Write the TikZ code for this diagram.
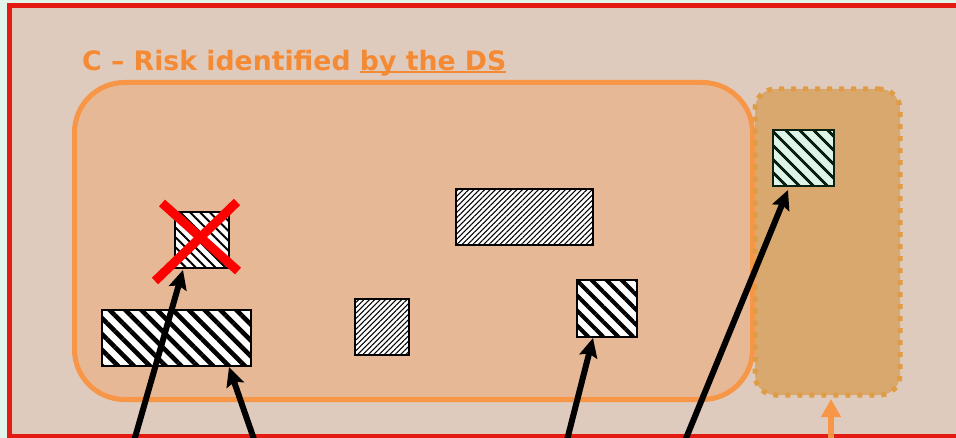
\documentclass[tikz,border=0pt]{standalone}
\usepackage{fontspec}
\setmainfont{DejaVu Sans}
\usetikzlibrary{patterns.meta,arrows.meta,calc}
\definecolor{mint}{HTML}{E1F5EA}
\definecolor{frame}{HTML}{E41B13}
\definecolor{bg}{HTML}{DFCBBE}
\definecolor{zonefill}{HTML}{E7B895}
\definecolor{zoneline}{HTML}{F79646}
\definecolor{extfill}{HTML}{D9A86E}
\definecolor{extline}{HTML}{DF9C44}
\definecolor{titlecol}{HTML}{F58A34}
\definecolor{grnfill}{HTML}{DDF5E8}
\definecolor{grnline}{HTML}{0A1F10}
\newcommand\myul[1]{\setbox0=\hbox{#1}\rlap{\rule[-2.6pt]{\wd0}{2.4pt}}\box0}
\begin{document}
\begin{tikzpicture}[x=1pt,y=-1pt,
  item/.style={draw=black, line width=2pt, inner sep=0pt, outer sep=0pt,
    anchor=north west, preaction={fill=white}},
  arr/.style={line width=6pt, -{Stealth[length=19pt,width=18pt,inset=3pt]}},
  oarr/.style={draw=zoneline, line width=6pt, -{Triangle[length=18pt,width=19pt]}}]
\useasboundingbox (0,0) rectangle (956,438);
\clip (0,0) rectangle (956,438);
\fill[mint] (0,0) rectangle (956,438);
\draw[frame, line width=5pt, fill=bg] (9.5,5.5) rectangle (990,436);
% title
\node[anchor=base west, inner sep=0pt, text=titlecol, font=\fontsize{26.7pt}{30pt}\selectfont\bfseries] (title) at (82,70.7) {C – Risk identified \myul{by the DS}};
% containers
\node[draw=zoneline, fill=zonefill, line width=5pt, rounded corners=50pt, inner sep=0pt, outer sep=0pt,
  minimum width=678pt, minimum height=317pt, anchor=north west] (zone) at (74.5,82.5) {};
\node[draw=extline, fill=extfill, line width=5pt, dash pattern=on 5pt off 7pt, rounded corners=20pt, inner sep=0pt, outer sep=0pt,
  minimum width=145pt, minimum height=306pt, anchor=north west] (ext) at (755,89) {};
% items
\node[item, minimum width=54pt, minimum height=56pt, pattern={Lines[angle=-45,distance=7pt,line width=2pt]}] (sqx) at (175,212) {};
\node[item, minimum width=149pt, minimum height=56pt, pattern={Lines[angle=-45,distance=11.2pt,line width=4.6pt]}] (wide) at (102,310) {};
\node[item, minimum width=54pt, minimum height=56pt, pattern={Lines[angle=45,distance=3.8pt,line width=1pt]}] (mid) at (355,299) {};
\node[item, minimum width=137pt, minimum height=56pt, pattern={Lines[angle=45,distance=3.8pt,line width=1pt]}] (top) at (456,189) {};
\node[item, minimum width=60pt, minimum height=57pt, pattern={Lines[angle=-45,distance=10.6pt,line width=4pt]}] (rsq) at (577,280) {};
\node[item, draw=grnline, preaction={fill=grnfill}, minimum width=61pt, minimum height=56pt,
  pattern={Lines[angle=-45,distance=10.5pt,line width=3.2pt]}, pattern color=grnline] (grn) at (773,130) {};
% red cross
\draw[red, line width=9pt] (162,203) -- (238,271);
\draw[red, line width=9pt] (237,202) -- (155,281);
% arrows
\coordinate (f1) at (132,448);
\coordinate (f2) at (257,448);
\coordinate (f3) at (565,448);
\coordinate (f4) at (682,448);
\coordinate (f5) at (831,448);
\draw[arr] (f1) -- ($(sqx.south west)+(8,2)$);
\draw[arr] (f2) -- ($(wide.south east)+(-22,1)$);
\draw[arr] (f3) -- ($(rsq.south west)+(16,1)$);
\draw[arr] (f4) -- ($(grn.south west)+(15,4)$);
\draw[oarr] (f5) -- ($(ext.south)+(3.5,4)$);
\end{tikzpicture}
\end{document}
